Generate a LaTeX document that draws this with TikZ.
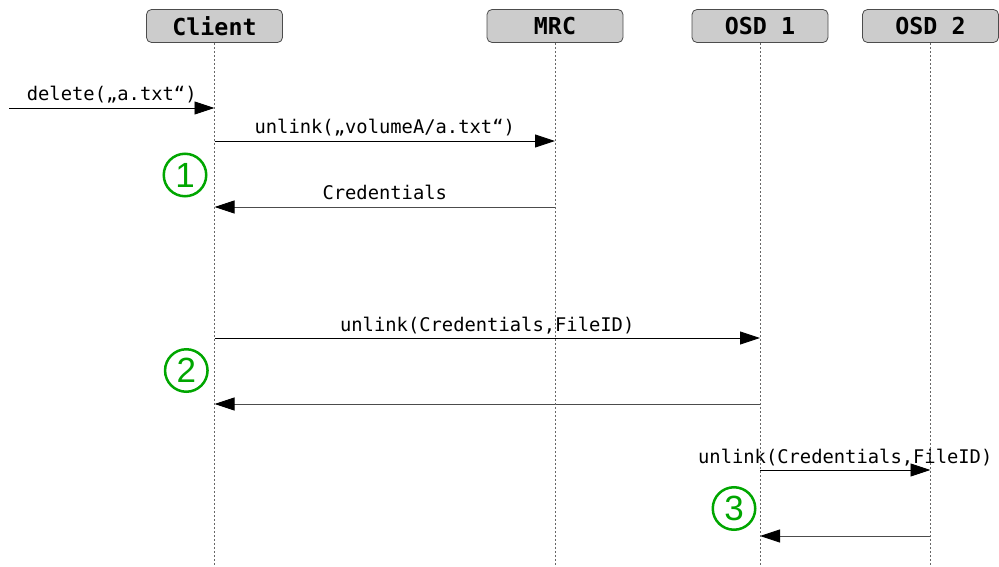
\documentclass[tikz,border=0pt]{standalone}
\usepackage{fontspec}
\setmonofont{DejaVu Sans Mono}
\newfontfamily\circfont{Liberation Sans}
\usetikzlibrary{arrows.meta}
\begin{document}
\begin{tikzpicture}[x=1pt,y=-1pt,
  actor/.style={draw=black!70, fill=black!20, rounded corners=5pt,
    minimum width=136pt, minimum height=33pt, inner sep=0pt, line width=0.8pt,
    font=\fontsize{23.3}{28}\selectfont\ttfamily\bfseries},
  life/.style={draw=black!60, dash pattern=on 2pt off 2pt, line width=0.8pt},
  msg/.style={draw=black, line width=0.9pt, -{Triangle[length=20pt,width=13pt,color=black]}},
  ret/.style={msg, draw=black!70},
  lbl/.style={font=\fontsize{18.8}{22}\selectfont\ttfamily, anchor=base,
    inner sep=0pt, yshift=7pt, text=black},
  num/.style={circle, draw=green!65!black, line width=2.5pt, minimum size=42.5pt,
    inner sep=0pt, font=\fontsize{35}{40}\selectfont\circfont, text=green!65!black}
]
\useasboundingbox (0,0) rectangle (999,567);
% actors
\node[actor] (client) at (214.5,26) {Client};
\node[actor] (mrc)    at (555,26)   {MRC};
\node[actor] (osd1)   at (760,26)   {OSD 1};
\node[actor] (osd2)   at (930.5,26) {OSD 2};
% lifeline ends
\coordinate (clientE) at (client.south |- 0,567);
\coordinate (mrcE)    at (mrc.south |- 0,567);
\coordinate (osd1E)   at (osd1.south |- 0,567);
\coordinate (osd2E)   at (osd2.south |- 0,567);
% message points
\coordinate (start) at (9,108);
\coordinate (c1) at (client.south |- 0,108);
\coordinate (c2) at (client.south |- 0,141);
\coordinate (m2) at (mrc.south |- 0,141);
\coordinate (m3) at (mrc.south |- 0,207);
\coordinate (c3) at (client.south |- 0,207);
\coordinate (c4) at (client.south |- 0,338);
\coordinate (o4) at (osd1.south |- 0,338);
\coordinate (o5) at (osd1.south |- 0,404);
\coordinate (c5) at (client.south |- 0,404);
\coordinate (o6) at (osd1.south |- 0,470);
\coordinate (p6) at (osd2.south |- 0,470);
\coordinate (p7) at (osd2.south |- 0,536);
\coordinate (o7) at (osd1.south |- 0,536);
% messages
\draw[msg] (start) -- (c1) node[midway,lbl] {delete(„a.txt“)};
\draw[msg] (c2) -- (m2) node[midway,lbl] {unlink(„volumeA/a.txt“)};
\draw[ret] (m3) -- (c3) node[midway,lbl] {Credentials};
\draw[msg] (c4) -- (o4) node[midway,lbl] {unlink(Credentials,FileID)};
\draw[ret] (o5) -- (c5);
\draw[msg] (o6) -- (p6) node[midway,lbl] {unlink(Credentials,FileID)};
\draw[ret] (p7) -- (o7);
% lifelines
\draw[life] (client.south) -- (clientE);
\draw[life] (mrc.south) -- (mrcE);
\draw[life] (osd1.south) -- (osd1E);
\draw[life] (osd2.south) -- (osd2E);
% step numbers
\node[num] (n1) at (185,175) {1};
\node[num] (n2) at (186.3,370.5) {2};
\node[num] (n3) at (734,508.5) {3};
\end{tikzpicture}
\end{document}
